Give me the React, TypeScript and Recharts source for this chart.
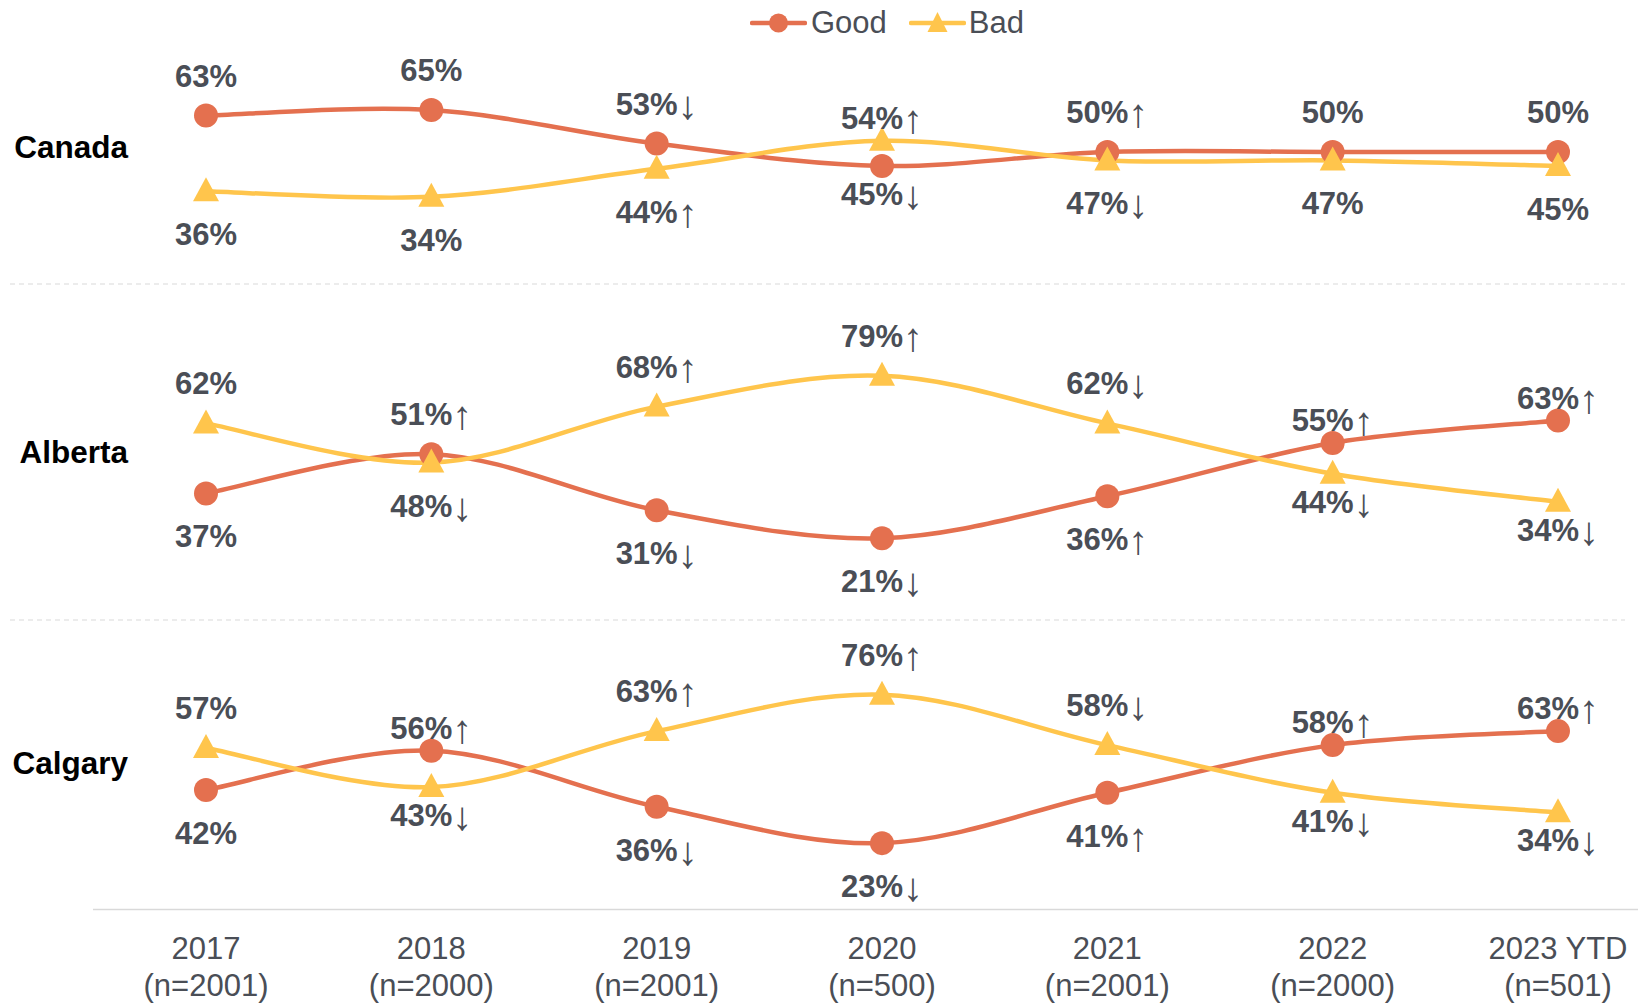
import React from 'react';
import { LineChart, Line, XAxis, YAxis, Legend } from 'recharts';

const years = ['2017', '2018', '2019', '2020', '2021', '2022', '2023 YTD'];
const sampleSizes = ['(n=2001)', '(n=2000)', '(n=2001)', '(n=500)', '(n=2001)', '(n=2000)', '(n=501)'];

const canadaGood = [63, 65, 53, 45, 50, 50, 50];
const canadaGoodTrend = ['', '', '↓', '↓', '↑', '', ''];
const canadaBad = [36, 34, 44, 54, 47, 47, 45];
const canadaBadTrend = ['', '', '↑', '↑', '↓', '', ''];

const albertaGood = [37, 51, 31, 21, 36, 55, 63];
const albertaGoodTrend = ['', '↑', '↓', '↓', '↑', '↑', '↑'];
const albertaBad = [62, 48, 68, 79, 62, 44, 34];
const albertaBadTrend = ['', '↓', '↑', '↑', '↓', '↓', '↓'];

const calgaryGood = [42, 56, 36, 23, 41, 58, 63];
const calgaryGoodTrend = ['', '↑', '↓', '↓', '↑', '↑', '↑'];
const calgaryBad = [57, 43, 63, 76, 58, 41, 34];
const calgaryBadTrend = ['', '↓', '↑', '↑', '↓', '↓', '↓'];

// categories whose value labels sit close to the markers (style choice)
const canadaCompactLabels = [3];
const albertaCompactLabels = [5, 6];
const calgaryCompactLabels = [1, 5, 6];

const GOOD = '#E4704F';
const BAD = '#FFC54C';
const TEXT = '#4A4E56';
const GRID = '#D9D9D9';
const FONT = '"Liberation Sans", Arial, Helvetica, sans-serif';
const W = 1638;
const FS = 31;

// Excel-like smoothed line (Catmull-Rom spline)
const smoothCurve: any = (context: any) => {
  let pts: number[][] = [];
  return {
    areaStart() {},
    areaEnd() {},
    lineStart() {
      pts = [];
    },
    point(x: number, y: number) {
      pts.push([+x, +y]);
    },
    lineEnd() {
      const n = pts.length;
      if (!n) return;
      context.moveTo(pts[0][0], pts[0][1]);
      for (let i = 0; i < n - 1; i++) {
        const p0 = pts[i - 1] || pts[i];
        const p1 = pts[i];
        const p2 = pts[i + 1];
        const p3 = pts[i + 2] || p2;
        const c1x = p1[0] + (p2[0] - p0[0]) / 6;
        const c1y = p1[1] + (p2[1] - p0[1]) / 6;
        const c2x = p2[0] - (p3[0] - p1[0]) / 6;
        const c2y = p2[1] - (p3[1] - p1[1]) / 6;
        context.bezierCurveTo(c1x, c1y, c2x, c2y, p2[0], p2[1]);
      }
    },
  };
};

const makeLabel = (values: number[], others: number[], trends: string[], compact: number[]) => (props: any) => {
  const { x, y, index } = props;
  if (x == null || y == null) return null;
  const above = values[index] > others[index];
  const tight = compact.indexOf(index) >= 0;
  const center = above ? (tight ? y - 23 : y - 40) : tight ? y + 28 : y + 43;
  const by = center + 11;
  return (
    <text x={x} y={by} textAnchor="middle" fill={TEXT} fontSize={FS} fontFamily={FONT}>
      <tspan fontWeight={700}>{values[index]}%</tspan>
      {trends[index] ? (
        <tspan fontWeight={400} fontSize={40} dy={4}>
          {trends[index]}
        </tspan>
      ) : null}
    </text>
  );
};

const GoodDot = (props: any) => {
  const { cx, cy, index } = props;
  if (cx == null || cy == null) return null;
  return <circle key={`g-${index}`} cx={cx} cy={cy} r={12} fill={GOOD} />;
};

const BadDot = (props: any) => {
  const { cx, cy, index } = props;
  if (cx == null || cy == null) return null;
  const pts = `${cx},${cy - 14} ${cx + 13},${cy + 10} ${cx - 13},${cy + 10}`;
  return <polygon key={`b-${index}`} points={pts} fill={BAD} />;
};

const YearTick = (props: any) => {
  const { x, y, payload } = props;
  const idx = payload && payload.index != null ? payload.index : years.indexOf(payload.value);
  return (
    <text x={x} y={y} textAnchor="middle" fill={TEXT} fontSize={FS} fontFamily={FONT}>
      <tspan x={x} dy={49}>{payload.value}</tspan>
      <tspan x={x} dy={37}>{sampleSizes[idx]}</tspan>
    </text>
  );
};

const LegendContent = () => (
  <div
    style={{
      display: 'flex',
      alignItems: 'center',
      fontFamily: FONT,
      fontSize: FS,
      color: TEXT,
      lineHeight: '34px',
      whiteSpace: 'nowrap',
    }}
  >
    <svg width={57} height={34} style={{ display: 'block' }}>
      <line x1={2} x2={55} y1={17} y2={17} stroke={GOOD} strokeWidth={4.5} strokeLinecap="round" />
      <circle cx={28.5} cy={17} r={9.5} fill={GOOD} />
    </svg>
    <span style={{ marginLeft: 4 }}>Good</span>
    <svg width={57} height={34} style={{ display: 'block', marginLeft: 22 }}>
      <line x1={2} x2={55} y1={17} y2={17} stroke={BAD} strokeWidth={4.5} strokeLinecap="round" />
      <polygon points="28.5,6 38.5,26 18.5,26" fill={BAD} />
    </svg>
    <span style={{ marginLeft: 3 }}>Bad</span>
  </div>
);

type PanelProps = {
  name: string;
  good: number[];
  bad: number[];
  goodTrend: string[];
  badTrend: string[];
  compact: number[];
  top: number;
  height: number;
  marginTop: number;
  marginBottom: number;
  domain: [number, number];
  showAxis?: boolean;
  showLegend?: boolean;
};

const Panel = (p: PanelProps) => {
  const rows = years.map((year, i) => ({ year, good: p.good[i], bad: p.bad[i] }));
  const [dmin, dmax] = p.domain;
  const PanelLabel = (lp: any) => {
    const vb = lp.viewBox || {};
    const y50 = vb.y + ((dmax - 50) / (dmax - dmin)) * vb.height;
    return (
      <text x={128} y={y50 + 6} textAnchor="end" fill="#000" fontSize={31.5} fontWeight={700} fontFamily={FONT}>
        {p.name}
      </text>
    );
  };
  return (
    <div style={{ position: 'absolute', left: 0, top: p.top, width: W, height: p.height }}>
      <LineChart
        width={W}
        height={p.height}
        data={rows}
        margin={{ top: p.marginTop, right: 0, bottom: p.marginBottom, left: 0 }}
      >
        <XAxis
          dataKey="year"
          hide={!p.showAxis}
          padding={{ left: 113, right: 80 }}
          interval={0}
          height={80}
          tickLine={false}
          tickSize={0}
          tickMargin={0}
          axisLine={{ stroke: GRID, strokeWidth: 1.5 }}
          tick={<YearTick />}
        />
        <YAxis
          width={93}
          domain={p.domain}
          allowDataOverflow
          tick={false}
          tickLine={false}
          axisLine={false}
          label={PanelLabel}
        />
        {p.showLegend ? (
          <Legend
            verticalAlign="middle"
            align="center"
            layout="horizontal"
            wrapperStyle={{ top: 6, left: 750, width: 330, height: 34 }}
            content={() => <LegendContent />}
          />
        ) : null}
        <Line
          dataKey="good"
          name="Good"
          type={smoothCurve}
          stroke={GOOD}
          strokeWidth={4.5}
          dot={GoodDot}
          activeDot={false}
          isAnimationActive={false}
          label={makeLabel(p.good, p.bad, p.goodTrend, p.compact)}
        />
        <Line
          dataKey="bad"
          name="Bad"
          type={smoothCurve}
          stroke={BAD}
          strokeWidth={4.5}
          dot={BadDot}
          activeDot={false}
          isAnimationActive={false}
          label={makeLabel(p.bad, p.good, p.badTrend, p.compact)}
        />
      </LineChart>
    </div>
  );
};

export default function App() {
  return (
    <div
      style={{
        position: 'absolute',
        left: 0,
        top: 0,
        width: W,
        height: 1004,
        background: '#fff',
        fontFamily: FONT,
      }}
    >
      <svg width={W} height={1004} style={{ position: 'absolute', left: 0, top: 0 }}>
        <line x1={10} x2={1625} y1={284} y2={284} stroke={GRID} strokeWidth={1.2} strokeDasharray="5 4" />
        <line x1={10} x2={1625} y1={620} y2={620} stroke={GRID} strokeWidth={1.2} strokeDasharray="5 4" />
      </svg>
      <Panel
        name="Canada"
        good={canadaGood}
        bad={canadaBad}
        goodTrend={canadaGoodTrend}
        badTrend={canadaBadTrend}
        compact={canadaCompactLabels}
        top={0}
        height={284}
        marginTop={12}
        marginBottom={20}
        domain={[10, 100]}
        showLegend
      />
      <Panel
        name="Alberta"
        good={albertaGood}
        bad={albertaBad}
        goodTrend={albertaGoodTrend}
        badTrend={albertaBadTrend}
        compact={albertaCompactLabels}
        top={284}
        height={336}
        marginTop={33}
        marginBottom={23}
        domain={[0, 100]}
      />
      <Panel
        name="Calgary"
        good={calgaryGood}
        bad={calgaryBad}
        goodTrend={calgaryGoodTrend}
        badTrend={calgaryBadTrend}
        compact={calgaryCompactLabels}
        top={620}
        height={384}
        marginTop={7.5}
        marginBottom={14.5}
        domain={[-0.7, 100]}
        showAxis
      />
    </div>
  );
}
